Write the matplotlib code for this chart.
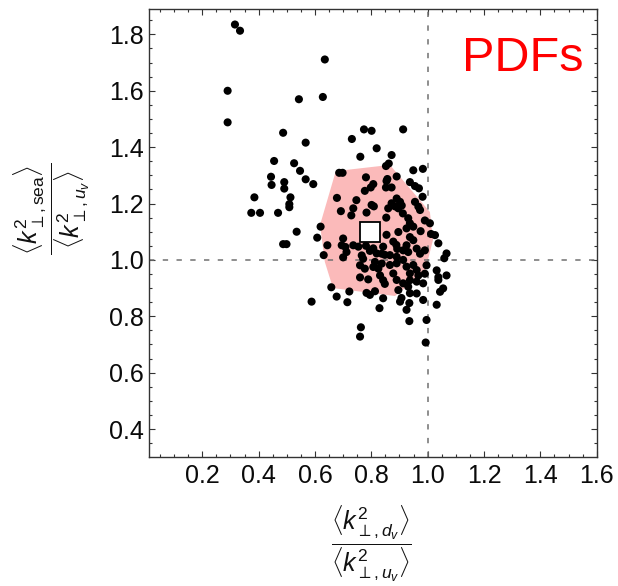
import matplotlib
matplotlib.use("Agg")
import matplotlib.pyplot as plt
from matplotlib.ticker import MultipleLocator, FixedLocator
from matplotlib.patches import Polygon

plt.rcParams["font.family"] = ["Liberation Sans", "DejaVu Sans"]
plt.rcParams["mathtext.fontset"] = "custom"
plt.rcParams["mathtext.rm"] = "Liberation Sans"
plt.rcParams["mathtext.it"] = "Liberation Sans:italic"
plt.rcParams["mathtext.bf"] = "Liberation Sans:bold"

# Replica ratios: <k^2_{perp,d_v}>/<k^2_{perp,u_v}> (x) vs <k^2_{perp,sea}>/<k^2_{perp,u_v}> (y)
ratio_dv = [
    0.316, 0.334, 0.290, 0.290, 0.635, 0.543, 0.628, 0.487, 0.567, 0.455,
    0.526, 0.547, 0.444, 0.446, 0.491, 0.491, 0.567, 0.594, 0.513, 0.385,
    0.509, 0.509, 0.374, 0.405, 0.469, 0.535, 0.487, 0.499, 0.588, 0.763,
    0.760, 0.935, 0.996, 0.993, 0.731, 0.774, 0.801, 0.913, 0.819, 0.761,
    0.872, 0.852, 0.862, 0.686, 0.698, 0.949, 0.983, 0.781, 0.890, 0.857,
    0.807, 0.798, 0.777, 0.854, 0.852, 0.872, 0.937, 0.955, 0.969, 0.678,
    0.747, 0.890, 0.902, 0.884, 0.908, 0.896, 0.860, 0.872, 0.801, 0.809,
    0.955, 0.967, 0.973, 0.982, 0.692, 0.736, 0.729, 0.783, 0.853, 0.912,
    0.931, 0.937, 0.949, 0.925, 0.990, 1.008, 1.026, 1.012, 0.975, 1.038,
    1.067, 1.059, 0.620, 0.608, 0.644, 0.631, 0.700, 0.695, 0.708, 0.712,
    0.700, 0.736, 0.754, 0.781, 0.807, 0.842, 0.854, 0.896, 0.878, 0.889,
    0.892, 0.937, 0.949, 0.925, 0.913, 0.931, 0.961, 0.973, 0.990, 0.766,
    0.771, 0.837, 0.848, 0.866, 0.890, 0.819, 0.760, 0.777, 0.807, 0.825,
    0.813, 0.837, 0.866, 0.890, 0.913, 0.925, 0.949, 0.961, 0.937, 0.996,
    0.990, 1.032, 1.038, 1.067, 0.760, 0.789, 0.831, 0.842, 0.848, 0.878,
    0.890, 0.913, 0.931, 0.961, 0.984, 1.038, 1.055, 1.044, 0.658, 0.677,
    0.722, 0.715, 0.783, 0.795, 0.813, 0.842, 0.829, 0.896, 0.907, 0.902,
    0.937, 0.961, 0.935, 0.925, 0.984, 1.032, 0.937, 0.967, 0.795,
]
ratio_sea = [
    1.835, 1.813, 1.600, 1.488, 1.711, 1.570, 1.578, 1.451, 1.416, 1.351,
    1.343, 1.316, 1.295, 1.266, 1.276, 1.253, 1.286, 1.269, 1.222, 1.222,
    1.198, 1.187, 1.167, 1.167, 1.167, 1.100, 1.056, 1.056, 0.852, 0.761,
    0.728, 0.783, 0.787, 0.707, 1.429, 1.463, 1.458, 1.463, 1.396, 1.366,
    1.372, 1.333, 1.342, 1.309, 1.309, 1.318, 1.323, 1.293, 1.296, 1.287,
    1.269, 1.257, 1.245, 1.280, 1.257, 1.257, 1.276, 1.262, 1.254, 1.220,
    1.212, 1.218, 1.206, 1.190, 1.193, 1.183, 1.183, 1.201, 1.195, 1.190,
    1.206, 1.189, 1.177, 1.224, 1.173, 1.183, 1.158, 1.168, 1.150, 1.165,
    1.148, 1.130, 1.118, 1.112, 1.140, 1.130, 1.088, 1.092, 1.102, 1.059,
    1.023, 1.006, 1.118, 1.079, 1.052, 1.017, 1.076, 1.052, 1.046, 1.028,
    1.009, 1.052, 1.047, 1.050, 1.041, 1.047, 1.089, 1.099, 1.065, 1.053,
    1.039, 1.081, 1.070, 1.052, 1.034, 1.028, 1.040, 1.022, 1.034, 1.016,
    1.004, 1.022, 1.018, 1.017, 1.011, 1.023, 0.981, 0.969, 0.975, 0.969,
    0.993, 0.987, 0.982, 0.988, 1.000, 0.976, 0.982, 0.964, 0.952, 0.981,
    0.951, 0.963, 0.939, 0.945, 0.938, 0.931, 0.945, 0.928, 0.915, 0.952,
    0.929, 0.917, 0.905, 0.923, 0.917, 0.929, 0.899, 0.887, 0.903, 0.870,
    0.888, 0.850, 0.883, 0.876, 0.889, 0.864, 0.829, 0.893, 0.865, 0.852,
    0.882, 0.881, 0.847, 0.823, 0.858, 0.841, 0.928, 0.945, 1.032,
]

# 68% region of the replicas
region_dv = [0.674, 0.866, 1.008, 1.019, 0.990, 0.884, 0.664, 0.635, 0.618]
region_sea = [1.315, 1.337, 1.170, 1.071, 0.957, 0.872, 0.900, 0.993, 1.124]

# Central value
center_dv = [0.795]
center_sea = [1.100]

x_ticks = [0.2, 0.4, 0.6, 0.8, 1.0, 1.2, 1.4, 1.6]
y_ticks = [0.4, 0.6, 0.8, 1.0, 1.2, 1.4, 1.6, 1.8]

W, H = 618, 586
fig = plt.figure(figsize=(W / 100, H / 100), dpi=100)
ax = fig.add_axes([149.3 / W, 1 - 456.7 / H, 447.4 / W, 447.4 / H])

ax.add_patch(Polygon(list(zip(region_dv, region_sea)), closed=True,
                     facecolor="#FBBABA", edgecolor="none", zorder=1))
ax.axvline(1.0, color="#707070", lw=1.1, ls=(0, (3.5, 5.5)), zorder=2)
ax.axhline(1.0, color="#707070", lw=1.1, ls=(0, (3.5, 5.5)), zorder=2)
ax.scatter(ratio_dv, ratio_sea, s=34, color="black", edgecolors="none", zorder=3)
ax.plot(center_dv, center_sea, marker="s", ms=14, mfc="white", mec="black",
        mew=1.3, ls="none", zorder=4)

ax.set_xlim(0.012, 1.6)
ax.set_ylim(0.302, 1.889)

ax.xaxis.set_major_locator(FixedLocator(x_ticks))
ax.yaxis.set_major_locator(FixedLocator(y_ticks))
ax.xaxis.set_minor_locator(MultipleLocator(0.05))
ax.yaxis.set_minor_locator(MultipleLocator(0.05))
ax.set_xticklabels([f"{v:.1f}" for v in x_ticks])
ax.set_yticklabels([f"{v:.1f}" for v in y_ticks])
ax.tick_params(which="both", direction="in", top=True, right=True,
               color="#333333", width=0.8, labelsize=18, labelcolor="#0a0a0a")
ax.tick_params(which="major", length=4)
ax.tick_params(which="minor", length=2.2)
ax.tick_params(axis="x", pad=5)
ax.tick_params(axis="y", pad=4)
for sp in ax.spines.values():
    sp.set_linewidth(1.0)
    sp.set_color("#333333")

fig.text(371.5 / W, 1 - 544 / H,
         r"$\dfrac{\langle k^2_{\perp,d_v}\rangle}{\langle k^2_{\perp,u_v}\rangle}$",
         ha="center", va="center", fontsize=18, color="#111111")
fig.text(52 / W, 1 - 209 / H,
         r"$\dfrac{\langle k^2_{\perp,\mathrm{sea}}\rangle}{\langle k^2_{\perp,u_v}\rangle}$",
         ha="center", va="center", rotation=90, fontsize=18, color="#111111")

ax.text(462 / W, 1 - 70.7 / H, "PDFs", transform=fig.transFigure,
        ha="left", va="baseline", fontsize=35, color="#FF0000")

fig.savefig("out.png", dpi=100)
